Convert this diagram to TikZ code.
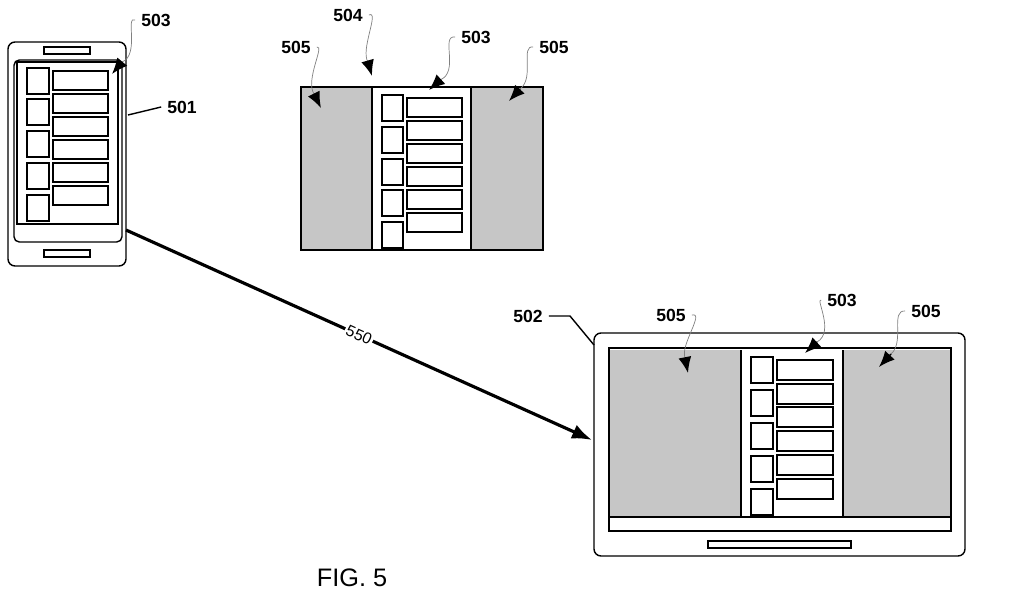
\documentclass[tikz,border=0pt]{standalone}
\usepackage{fontspec}
\setmainfont{Liberation Sans}
\usetikzlibrary{positioning, arrows.meta}
\tikzset{
  lbl/.style={font=\bfseries},
  lead/.style={gray, thin},
  tip/.style={-{Latex[length=3.2mm, width=2.6mm]}, thick},
  box/.style={draw=black, thick}
}
\begin{document}
\begin{tikzpicture}[x=0.02cm, y=-0.02cm]
    \useasboundingbox (0,0) rectangle (1024,595);

    % Phone 501
    \draw[thick, rounded corners=4] (8,42) rectangle (126,266);
    \draw[thick] (44,47) rectangle (90,54);
    \draw[thick] (44,250) rectangle (90,257);
    \draw[thick, rounded corners=3] (14,60) rectangle (122,242);
    \draw[thick] (17,62) rectangle (118,224);
    \foreach \y in {68,99,131,163,195}
        \draw[box] (27,\y) rectangle (49,\y+26);
    \foreach \y in {71,94,117,140,163,186}
        \draw[box] (53,\y) rectangle (108,\y+19);
    \node[lbl] (p503) at (156,20) {503};
    \coordinate (p503t) at (112,74);
    \draw[lead] (p503.west) .. controls (125,15) and (140,55) .. (122,62);
    \draw[tip] (122,62) -- (p503t);
    \node[lbl] (n501) at (182,107) {501};
    \draw[thick] (128,115) -- (n501.west);

    % Panel 504
    \fill[gray!45] (301,87) rectangle (372,250);
    \fill[gray!45] (471,87) rectangle (543,250);
    \draw[thick] (301,87) rectangle (543,250);
    \draw[thick] (372,87) -- (372,250);
    \draw[thick] (471,87) -- (471,250);
    \foreach \y in {95,127,159,190,222}
        \draw[box] (382,\y) rectangle (403,\y+26);
    \foreach \y in {98,121,144,167,190,213}
        \draw[box] (407,\y) rectangle (462,\y+19);
    \node[lbl] (m504) at (348,15) {504};
    \node[lbl] (m503) at (476,37) {503};
    \node[lbl] (ml505) at (296,47) {505};
    \node[lbl] (mr505) at (554,47) {505};
    \draw[lead] (m504.east) .. controls (380,10) and (360,50) .. (368,62);
    \draw[tip] (368,62) -- (372,76);
    \draw[lead] (m503.west) .. controls (440,35) and (460,72) .. (440,80);
    \draw[tip] (440,80) -- (429,90);
    \draw[lead] (ml505.east) .. controls (325,45) and (305,80) .. (314,94);
    \draw[tip] (314,94) -- (321,108);
    \draw[lead] (mr505.west) .. controls (520,45) and (535,78) .. (520,89);
    \draw[tip] (520,89) -- (509,101);

    % TV 502
    \draw[thick, rounded corners=4] (594,333) rectangle (965,556);
    \fill[gray!45] (609,350) rectangle (741,517);
    \fill[gray!45] (843,350) rectangle (951,517);
    \draw[thick] (609,348) rectangle (951,531);
    \draw[thick] (609,517) -- (951,517);
    \draw[thick] (741,350) -- (741,517);
    \draw[thick] (843,350) -- (843,517);
    \draw[thick] (708,541) rectangle (851,548);
    \foreach \y in {357,390,423,456,489}
        \draw[box] (751,\y) rectangle (773,\y+26);
    \foreach \y in {360,384,407,431,455,479}
        \draw[box] (777,\y) rectangle (833,\y+20);
    \node[lbl] (t502) at (528,316) {502};
    \draw[thick] (t502.east) -- (570,316) -- (594,345);
    \node[lbl] (tl505) at (671,315) {505};
    \node[lbl] (t503) at (842,300) {503};
    \node[lbl] (tr505) at (926,311) {505};
    \draw[lead] (tl505.east) .. controls (705,312) and (680,345) .. (685,358);
    \draw[tip] (685,358) -- (688,373);
    \draw[lead] (t503.west) .. controls (815,298) and (835,332) .. (817,342);
    \draw[tip] (817,342) -- (805,353);
    \draw[lead] (tr505.west) .. controls (890,310) and (905,342) .. (891,354);
    \draw[tip] (891,354) -- (879,367);

    % Transfer 550
    \coordinate (from) at (126,230);
    \coordinate (to) at (592,440);
    \draw[-{Latex[length=4mm, width=3mm]}, line width=1.8pt] (from) --
        node[pos=0.5, sloped, fill=white, inner sep=1pt, font=\small] (l550) {550} (to);

    \node[font=\Large] (fig) at (352,578) {FIG. 5};
\end{tikzpicture}
\end{document}
